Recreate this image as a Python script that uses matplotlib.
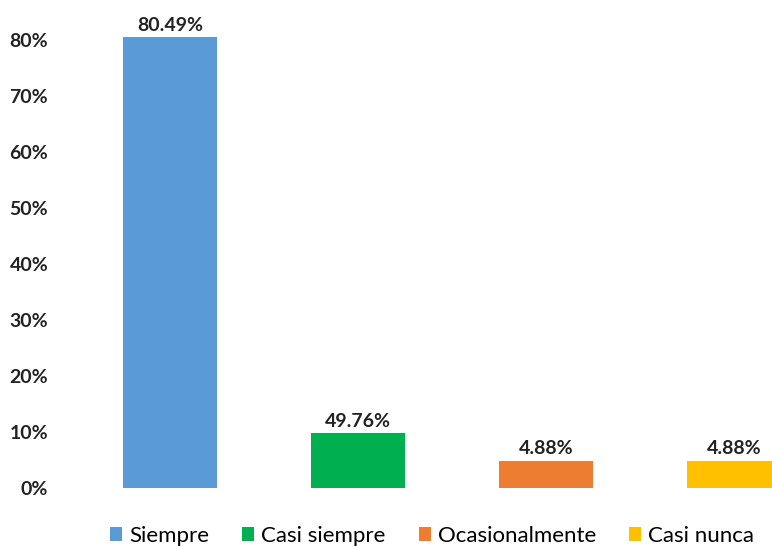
import matplotlib
matplotlib.use("Agg")
import matplotlib.pyplot as plt
from matplotlib.patches import Patch

categories = ["Siempre", "Casi siempre", "Ocasionalmente", "Casi nunca"]
values = [80.49, 9.76, 4.88, 4.88]
value_labels = ["80.49%", "49.76%", "4.88%", "4.88%"]
colors = ["#5B9BD5", "#00B050", "#ED7D31", "#FFC000"]
yticks = [0, 10, 20, 30, 40, 50, 60, 70, 80]

plt.rcParams['font.family'] = ['Lato', 'DejaVu Sans']

fig = plt.figure(figsize=(7.72, 5.47), dpi=100)
ax = fig.add_axes([76 / 772, 59 / 547, 752 / 772, 504 / 547])

x = range(len(categories))
bars = ax.bar(x, values, width=0.505, color=colors)

for b, lab in zip(bars, value_labels):
    ax.text(b.get_x() + b.get_width() / 2, b.get_height() + 0.6, lab,
            ha='center', va='bottom', fontsize=14, fontweight='bold', color='#222222')

ax.set_xlim(-0.5, 3.5)
ax.set_ylim(0, 90)
ax.set_yticks(yticks)
ax.set_yticklabels([f"{t}%" for t in yticks], fontsize=14, fontweight='bold', color='#222222')
ax.set_xticks([])
ax.tick_params(axis='y', length=0, pad=20)
for s in ax.spines.values():
    s.set_visible(False)

handles = [Patch(facecolor=c, label=n) for c, n in zip(colors, categories)]
fig.legend(handles=handles, loc='center', bbox_to_anchor=(432 / 772, 1 - 536 / 547),
           ncol=4, frameon=False, fontsize=16, handlelength=0.55, handleheight=0.55,
           handletextpad=0.3, columnspacing=1.5)

fig.savefig("out.png", dpi=100)
